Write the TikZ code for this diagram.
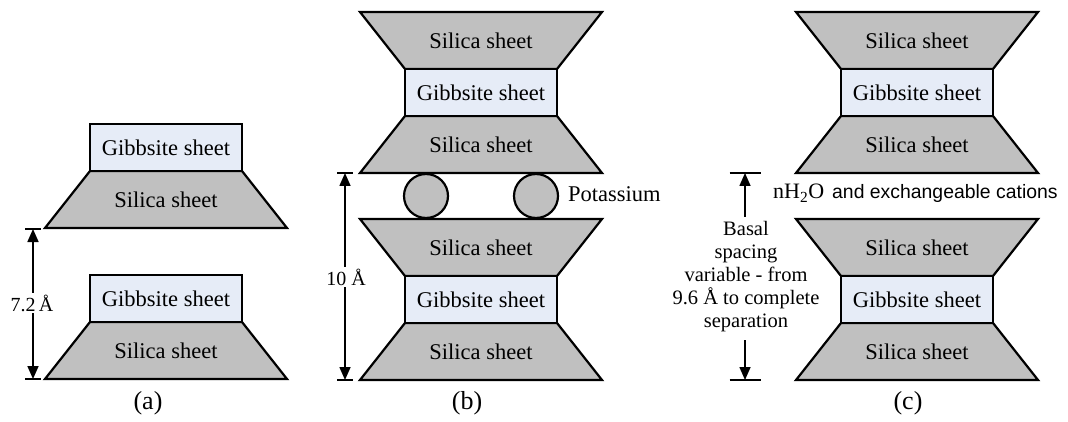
\documentclass[tikz,border=0pt]{standalone}
\usepackage{fontspec}
\setmainfont{Liberation Serif}
\newfontfamily\arialf{Liberation Sans}
\usetikzlibrary{arrows.meta}
\definecolor{silgray}{RGB}{192,192,192}
\definecolor{gibblue}{RGB}{230,236,247}
\tikzset{
 shp/.style={draw=black, line width=2.2pt, line join=miter},
 sil/.style={shp, fill=silgray},
 gib/.style={shp, fill=gibblue},
 lbl/.style={font=\fontsize{22.5}{27}\selectfont, inner sep=0pt},
 dimlbl/.style={font=\fontsize{20}{23}\selectfont, fill=white, inner sep=1.5pt},
 captext/.style={font=\fontsize{26}{30}\selectfont, inner sep=0pt},
 dimarrow/.style={line width=1.6pt, -{Triangle[length=13pt,width=11pt]}},
 dimboth/.style={line width=1.6pt, {Triangle[length=13pt,width=11pt]}-{Triangle[length=13pt,width=11pt]}},
 ticker/.style={line width=2pt},
 potball/.style={circle, draw=black, fill=silgray, line width=2.2pt, minimum size=44pt, inner sep=0pt},
 silup/.pic={\path[sil] (-76,0) -- (76,0) -- (121,57) -- (-121,57) -- cycle; \node[lbl] (-t) at (0,28.5) {Silica sheet};},
 sildn/.pic={\path[sil] (-121,0) -- (121,0) -- (76,57) -- (-76,57) -- cycle; \node[lbl] (-t) at (0,28.5) {Silica sheet};},
 gibb/.pic={\path[gib] (-76,0) rectangle (76,47); \node[lbl] (-t) at (0,23.5) {Gibbsite sheet};},
}
\begin{document}
\begin{tikzpicture}[x=1pt,y=-1pt]
\useasboundingbox (0,0) rectangle (1068,422);
% ---------- (a)
\pic (as1) at (166,171) {silup};
\pic (ag1) at (166,124) {gibb};
\pic (as2) at (166,322) {silup};
\pic (ag2) at (166,275) {gibb};
\coordinate (at) at (33,229);
\coordinate (ab) at (33,379);
\draw[ticker] ([xshift=-8pt]at) -- ([xshift=8pt]at);
\draw[ticker] ([xshift=-8pt]ab) -- ([xshift=8pt]ab);
\draw[dimboth] (at) -- (ab);
\node[dimlbl] (al) at (32,303) {7.2\,Å};
\node[captext] (capa) at (148,403) {(a)};
% ---------- (b)
\pic (bs1) at (481,12) {sildn};
\pic (bs2) at (481,116) {silup};
\pic (bg1) at (481,69) {gibb};
\node[potball] (k1) at (426,196) {};
\node[potball] (k2) at (536,196) {};
\node[lbl, anchor=base west] (pot) at (568,202) {Potassium};
\pic (bs3) at (481,219) {sildn};
\pic (bs4) at (481,323) {silup};
\pic (bg2) at (481,276) {gibb};
\coordinate (bt) at (345,173);
\coordinate (bb) at (345,380);
\draw[ticker] ([xshift=-8pt]bt) -- ([xshift=8pt]bt);
\draw[ticker] ([xshift=-8pt]bb) -- ([xshift=8pt]bb);
\draw[dimboth] (bt) -- (bb);
\node[dimlbl] (bl) at (346,277) {10 Å};
\node[captext] (capb) at (467,403) {(b)};
% ---------- (c)
\pic (cs1) at (917,12) {sildn};
\pic (cs2) at (917,116) {silup};
\pic (cg1) at (917,69) {gibb};
\pic (cs3) at (917,219) {sildn};
\pic (cs4) at (917,323) {silup};
\pic (cg2) at (917,276) {gibb};
\coordinate (ct) at (745,173);
\coordinate (cb) at (745,380);
\coordinate (ctt) at (745,217);
\coordinate (cbt) at (745,340);
\draw[ticker] ([xshift=-15.5pt]ct) -- ([xshift=15.5pt]ct);
\draw[ticker] ([xshift=-15.5pt]cb) -- ([xshift=15.5pt]cb);
\draw[dimarrow] (ctt) -- (ct);
\draw[dimarrow] (cbt) -- (cb);
\node[align=center, font=\fontsize{20.5}{23}\selectfont, inner sep=0pt] (basal) at (746,277) {Basal\\spacing\\variable - from\\9.6 Å to complete\\separation};
\node[anchor=base west, inner sep=0pt, font=\fontsize{22}{26}\selectfont] (nh) at (773,199) {nH\textsubscript{2}O};
\node[anchor=base west, inner sep=0pt, font=\arialf\fontsize{19.4}{23}\selectfont] (cat) at (832,199) {and exchangeable cations};
\node[captext] (capc) at (908,403) {(c)};
\end{tikzpicture}
\end{document}
